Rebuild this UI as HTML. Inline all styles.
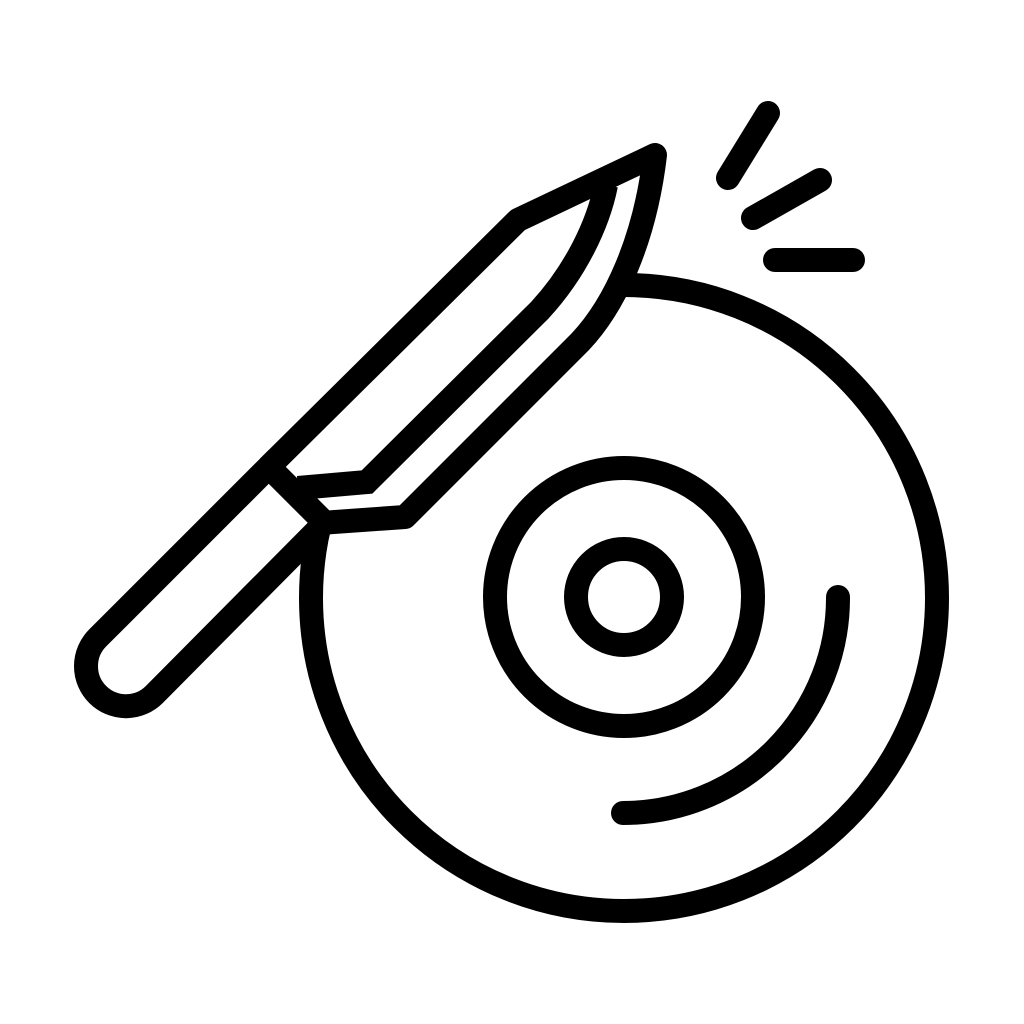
<!DOCTYPE html>
<html><head><meta charset="utf-8"><style>html,body{margin:0;padding:0;background:#fff}svg{display:block}</style></head>
<body>
<svg width="1024" height="1024" viewBox="0 0 1024 1024" xmlns="http://www.w3.org/2000/svg">
<g fill="none" stroke="#000" stroke-width="24" stroke-linecap="round" stroke-linejoin="round">
  <circle cx="624" cy="598" r="313"/>
  <circle cx="624" cy="597" r="129"/>
  <circle cx="624" cy="597" r="48"/>
  <path d="M838,597 A215,215 0 0 1 623,813"/>
  <line x1="768" y1="113" x2="728" y2="178"/>
  <line x1="820" y1="180" x2="753" y2="218"/>
  <line x1="775" y1="260" x2="853" y2="260"/>
  <path fill="#fff" stroke-linejoin="miter" d="M268.8,466.8 L97.7,637.9 A40,40 0 0 0 154.3,694.5 L324.7,522.7 Z"/>
  <path fill="#fff" d="M268.8,466.8 L518,220 L655,155 C645,240 615,305 580,342 L405,517 L324.7,522.7 Z"/>
  <path stroke-linejoin="miter" stroke-linecap="butt" d="M606,185 C598,225 575,272 540,310 L367,482 L298,488"/>
</g>
</svg>
</body></html>
